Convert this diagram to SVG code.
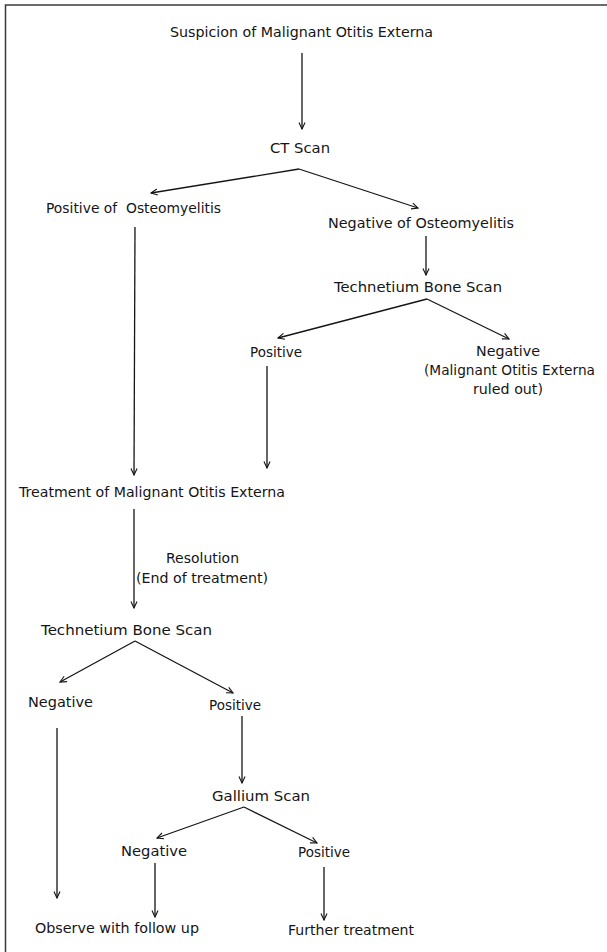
<svg xmlns="http://www.w3.org/2000/svg" width="607" height="952" viewBox="0 0 607 952">
<defs>
<style>
text{font-family:"DejaVu Sans","Liberation Sans",sans-serif;font-size:14.5px;fill:#151515}
.c line{stroke:#151515;stroke-width:1.3;fill:none}
.a{marker-end:url(#ah)}
.frame{stroke:#3a3a3a;stroke-width:1.5;fill:none}
</style>
<marker id="ah" viewBox="0 0 10 10" refX="9" refY="5" markerWidth="8" markerHeight="8" markerUnits="userSpaceOnUse" orient="auto">
<path d="M1,1.2 L9,5 L1,8.8" fill="none" stroke="#151515" stroke-width="1.4"/>
</marker>
</defs>
<rect width="607" height="952" fill="#fff"/>
<path class="frame" d="M5.5,952 V5 H607"/>
<g id="n1"><text x="170" y="37" textLength="263" lengthAdjust="spacingAndGlyphs">Suspicion of Malignant Otitis Externa</text></g>
<g id="n2"><text x="270" y="153" textLength="60" lengthAdjust="spacingAndGlyphs">CT Scan</text></g>
<g id="n3"><text x="46" y="213" textLength="175" lengthAdjust="spacingAndGlyphs" xml:space="preserve">Positive of  Osteomyelitis</text></g>
<g id="n4"><text x="328" y="228" textLength="186" lengthAdjust="spacingAndGlyphs">Negative of Osteomyelitis</text></g>
<g id="n5"><text x="334" y="292" textLength="168" lengthAdjust="spacingAndGlyphs">Technetium Bone Scan</text></g>
<g id="n6"><text x="250" y="357" textLength="52" lengthAdjust="spacingAndGlyphs">Positive</text></g>
<g id="n7">
<text x="476" y="356" textLength="64" lengthAdjust="spacingAndGlyphs">Negative</text>
<text x="424" y="375" textLength="171" lengthAdjust="spacingAndGlyphs">(Malignant Otitis Externa</text>
<text x="473" y="394" textLength="70" lengthAdjust="spacingAndGlyphs">ruled out)</text>
</g>
<g id="n8"><text x="19" y="497" textLength="266" lengthAdjust="spacingAndGlyphs">Treatment of Malignant Otitis Externa</text></g>
<g id="lbl">
<text x="166" y="563" textLength="73" lengthAdjust="spacingAndGlyphs">Resolution</text>
<text x="136" y="583" textLength="132" lengthAdjust="spacingAndGlyphs">(End of treatment)</text>
</g>
<g id="n9"><text x="41" y="635" textLength="171" lengthAdjust="spacingAndGlyphs">Technetium Bone Scan</text></g>
<g id="n10"><text x="28" y="707" textLength="65" lengthAdjust="spacingAndGlyphs">Negative</text></g>
<g id="n11"><text x="209" y="710" textLength="52" lengthAdjust="spacingAndGlyphs">Positive</text></g>
<g id="n12"><text x="212" y="801" textLength="98" lengthAdjust="spacingAndGlyphs">Gallium Scan</text></g>
<g id="n13"><text x="121" y="856" textLength="66" lengthAdjust="spacingAndGlyphs">Negative</text></g>
<g id="n14"><text x="298" y="857" textLength="52" lengthAdjust="spacingAndGlyphs">Positive</text></g>
<g id="n15"><text x="35" y="933" textLength="164" lengthAdjust="spacingAndGlyphs">Observe with follow up</text></g>
<g id="n16"><text x="288" y="935" textLength="126" lengthAdjust="spacingAndGlyphs">Further treatment</text></g>
<g id="connectors" class="c">
<line class="a" x1="302" y1="53" x2="302" y2="129"/>
<line class="a" x1="299" y1="169" x2="151" y2="193"/>
<line class="a" x1="299" y1="169" x2="418" y2="208"/>
<line class="a" x1="135" y1="227" x2="134" y2="475"/>
<line class="a" x1="426" y1="236" x2="426" y2="275"/>
<line class="a" x1="427" y1="299" x2="278" y2="338"/>
<line class="a" x1="427" y1="299" x2="509" y2="339"/>
<line class="a" x1="267" y1="366" x2="267" y2="468"/>
<line class="a" x1="134" y1="509" x2="134" y2="608"/>
<line class="a" x1="135" y1="641" x2="60" y2="682"/>
<line class="a" x1="135" y1="641" x2="233" y2="693"/>
<line class="a" x1="57" y1="728" x2="57" y2="898"/>
<line class="a" x1="242" y1="716" x2="242" y2="783"/>
<line class="a" x1="244" y1="807" x2="157" y2="838"/>
<line class="a" x1="244" y1="807" x2="317" y2="843"/>
<line class="a" x1="155" y1="863" x2="155" y2="917"/>
<line class="a" x1="324" y1="867" x2="324" y2="920"/>
</g>
</svg>
